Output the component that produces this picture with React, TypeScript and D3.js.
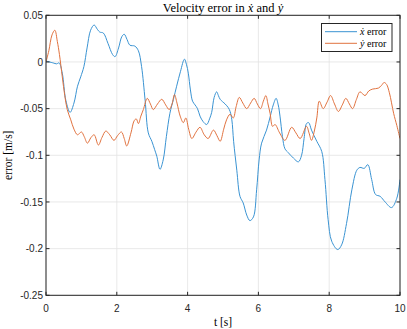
import React from "react";
import * as d3 from "d3";

const xTicks = [0, 2, 4, 6, 8, 10];
const yTicks = [0.05, 0, -0.05, -0.1, -0.15, -0.2, -0.25];
const yTickLabels = ["0.05", "0", "-0.05", "-0.1", "-0.15", "-0.2", "-0.25"];

const tX = [0, 0.2, 0.3, 0.37, 0.46, 0.56, 0.68, 0.79, 0.89, 0.98, 1.07, 1.16, 1.26, 1.36, 1.45, 1.52, 1.62, 1.75, 1.88, 1.95, 2.05, 2.14, 2.21, 2.29, 2.37, 2.51, 2.61, 2.7, 2.8, 2.89, 2.99, 3.07, 3.13, 3.22, 3.31, 3.4, 3.5, 3.6, 3.69, 3.8, 3.91, 3.97, 4.02, 4.08, 4.14, 4.21, 4.28, 4.35, 4.44, 4.54, 4.62, 4.68, 4.75, 4.82, 4.87, 4.92, 5.06, 5.15, 5.2, 5.25, 5.3, 5.39, 5.48, 5.57, 5.67, 5.76, 5.86, 5.95, 6.02, 6.09, 6.23, 6.33, 6.42, 6.5, 6.56, 6.61, 6.68, 6.75, 6.84, 6.99, 7.13, 7.22, 7.29, 7.36, 7.42, 7.5, 7.65, 7.79, 7.88, 7.97, 8.07, 8.24, 8.35, 8.49, 8.64, 8.78, 8.87, 8.99, 9.09, 9.2, 9.31, 9.44, 9.58, 9.76, 9.91, 10.0];
const xErr = [0.001, -0.001, -0.002, -0.001, -0.012, -0.041, -0.054, -0.044, -0.026, -0.016, -0.005, 0.015, 0.034, 0.0396, 0.035, 0.032, 0.031, 0.02, 0.008, 0.0057, 0.015, 0.027, 0.0297, 0.024, 0.018, 0.017, 0.012, -0.005, -0.041, -0.076, -0.085, -0.094, -0.101, -0.115, -0.105, -0.08, -0.055, -0.04, -0.026, -0.01, 0.003, -0.003, -0.012, -0.03, -0.042, -0.046, -0.05, -0.058, -0.064, -0.067, -0.061, -0.054, -0.038, -0.032, -0.036, -0.04, -0.045, -0.049, -0.053, -0.062, -0.085, -0.116, -0.144, -0.151, -0.164, -0.17, -0.166, -0.137, -0.105, -0.087, -0.073, -0.059, -0.046, -0.039, -0.046, -0.058, -0.08, -0.093, -0.097, -0.103, -0.107, -0.1, -0.082, -0.066, -0.065, -0.073, -0.085, -0.096, -0.126, -0.169, -0.192, -0.201, -0.196, -0.173, -0.137, -0.116, -0.113, -0.114, -0.11, -0.126, -0.142, -0.144, -0.15, -0.156, -0.146, -0.126];

const tY = [0, 0.08, 0.17, 0.25, 0.32, 0.38, 0.46, 0.53, 0.6, 0.7, 0.79, 0.89, 1.0, 1.08, 1.17, 1.27, 1.36, 1.48, 1.58, 1.69, 1.8, 1.92, 2.02, 2.13, 2.21, 2.28, 2.4, 2.49, 2.55, 2.61, 2.68, 2.75, 2.86, 2.95, 3.03, 3.15, 3.27, 3.38, 3.48, 3.56, 3.63, 3.7, 3.79, 3.88, 3.95, 4.03, 4.12, 4.24, 4.35, 4.47, 4.58, 4.73, 4.83, 4.92, 5.02, 5.1, 5.2, 5.29, 5.37, 5.46, 5.56, 5.67, 5.78, 5.88, 5.97, 6.06, 6.14, 6.21, 6.27, 6.33, 6.4, 6.47, 6.6, 6.75, 6.94, 7.06, 7.18, 7.36, 7.43, 7.5, 7.58, 7.65, 7.72, 7.83, 7.94, 8.04, 8.15, 8.26, 8.37, 8.47, 8.57, 8.66, 8.77, 8.87, 9.01, 9.12, 9.23, 9.39, 9.48, 9.55, 9.62, 9.7, 9.82, 9.91, 10.0];
const yErr = [0, 0.012, 0.029, 0.034, 0.022, 0.008, -0.016, -0.036, -0.051, -0.062, -0.072, -0.078, -0.075, -0.08, -0.087, -0.081, -0.078, -0.089, -0.081, -0.074, -0.078, -0.084, -0.079, -0.075, -0.082, -0.09, -0.076, -0.063, -0.061, -0.066, -0.058, -0.051, -0.039, -0.045, -0.051, -0.045, -0.04, -0.046, -0.051, -0.045, -0.035, -0.044, -0.058, -0.065, -0.06, -0.072, -0.082, -0.075, -0.07, -0.078, -0.082, -0.073, -0.079, -0.085, -0.072, -0.062, -0.056, -0.06, -0.048, -0.038, -0.044, -0.05, -0.044, -0.039, -0.045, -0.05, -0.042, -0.036, -0.045, -0.055, -0.069, -0.067, -0.076, -0.084, -0.07, -0.076, -0.082, -0.069, -0.076, -0.084, -0.074, -0.06, -0.042, -0.05, -0.043, -0.036, -0.045, -0.053, -0.046, -0.039, -0.045, -0.05, -0.04, -0.032, -0.036, -0.031, -0.029, -0.028, -0.025, -0.022, -0.024, -0.033, -0.055, -0.068, -0.082];

const W = 407;
const H = 329;
const M = { left: 46, right: 400, top: 15.3, bottom: 295.3 };
const AX = "#262626";
const BLUE = "#3a93d2";
const ORANGE = "#e0723f";

export default function App() {
  const x = d3.scaleLinear().domain([0, 10]).range([M.left, M.right]);
  const y = d3.scaleLinear().domain([-0.25, 0.05]).range([M.bottom, M.top]);
  const line = d3
    .line<[number, number]>()
    .x((d) => x(d[0]))
    .y((d) => y(d[1]))
    .curve(d3.curveCatmullRom.alpha(0.5));
  const blueD = line(tX.map((t, i) => [t, xErr[i]] as [number, number])) || "";
  const orangeD = line(tY.map((t, i) => [t, yErr[i]] as [number, number])) || "";
  const tick = 3.5;
  const serif = "'Liberation Serif', 'Times New Roman', serif";
  const sans = "'Liberation Sans', Arial, sans-serif";

  return (
    <svg width={W} height={H} style={{ position: "absolute", left: 0, top: 0, background: "#fff" }}>
      <rect x={0} y={0} width={W} height={H} fill="#fff" />
      {xTicks.map((t) => (
        <line key={"gx" + t} x1={x(t)} x2={x(t)} y1={M.top} y2={M.bottom} stroke="#e3e3e3" strokeWidth={0.8} />
      ))}
      {yTicks.map((t) => (
        <line key={"gy" + t} x1={M.left} x2={M.right} y1={y(t)} y2={y(t)} stroke="#e3e3e3" strokeWidth={0.8} />
      ))}
      <defs>
        <clipPath id="clip">
          <rect x={M.left} y={M.top} width={M.right - M.left} height={M.bottom - M.top} />
        </clipPath>
      </defs>
      <g clipPath="url(#clip)">
        <path d={blueD} fill="none" stroke={BLUE} strokeWidth={1} />
        <path d={orangeD} fill="none" stroke={ORANGE} strokeWidth={1} />
      </g>
      <rect x={M.left} y={M.top} width={M.right - M.left} height={M.bottom - M.top} fill="none" stroke={AX} strokeWidth={1} />
      {xTicks.map((t) => (
        <g key={"tx" + t}>
          <line x1={x(t)} x2={x(t)} y1={M.bottom} y2={M.bottom - tick} stroke={AX} />
          <line x1={x(t)} x2={x(t)} y1={M.top} y2={M.top + tick} stroke={AX} />
          <text x={x(t)} y={311.5} textAnchor="middle" fontFamily={sans} fontSize={10} fill={AX}>
            {t}
          </text>
        </g>
      ))}
      {yTicks.map((t, i) => (
        <g key={"ty" + t}>
          <line x1={M.left} x2={M.left + tick} y1={y(t)} y2={y(t)} stroke={AX} />
          <line x1={M.right} x2={M.right - tick} y1={y(t)} y2={y(t)} stroke={AX} />
          <text x={M.left - 3} y={y(t) + 3.6} textAnchor="end" fontFamily={sans} fontSize={10} fill={AX}>
            {yTickLabels[i]}
          </text>
        </g>
      ))}
      <text x={(M.left + M.right) / 2} y={11.5} textAnchor="middle" fontFamily={serif} fontSize={12.5} fill="#000">
        Velocity error in <tspan fontStyle="italic">ẋ</tspan> and <tspan fontStyle="italic">ẏ</tspan>
      </text>
      <text x={(M.left + M.right) / 2} y={326} textAnchor="middle" fontFamily={serif} fontSize={11.5} fill="#000">
        t [s]
      </text>
      <text
        transform={`translate(12, ${(M.top + M.bottom) / 2}) rotate(-90)`}
        textAnchor="middle"
        fontFamily={serif}
        fontSize={11.5}
        fill="#000"
      >
        error [m/s]
      </text>
      <rect x={321.5} y={23.5} width={70.5} height={28} fill="#fff" stroke={AX} strokeWidth={1} />
      <line x1={325} x2={357} y1={31.7} y2={31.7} stroke={BLUE} strokeWidth={1} />
      <line x1={325} x2={357} y1={43.3} y2={43.3} stroke={ORANGE} strokeWidth={1} />
      <text x={360} y={35} fontFamily={serif} fontSize={10} fill="#000">
        <tspan fontStyle="italic">ẋ</tspan> error
      </text>
      <text x={360} y={46.6} fontFamily={serif} fontSize={10} fill="#000">
        <tspan fontStyle="italic">ẏ</tspan> error
      </text>
    </svg>
  );
}
